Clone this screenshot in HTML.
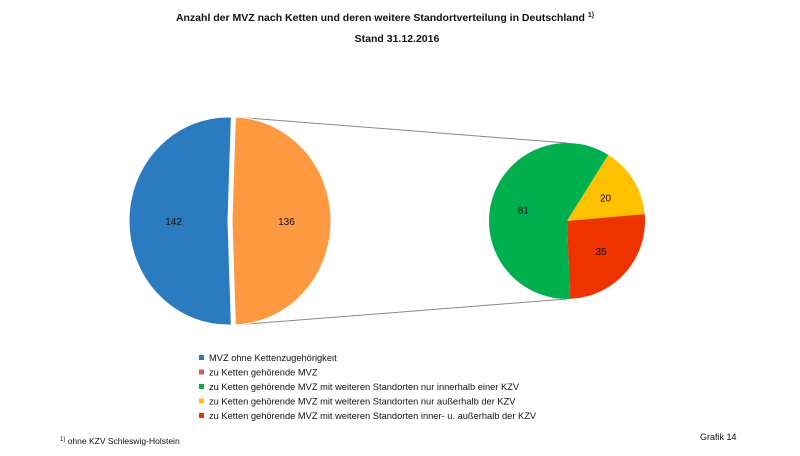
<!DOCTYPE html>
<html><head><meta charset="utf-8"><style>
body{margin:0;background:#fff;width:800px;height:451px;overflow:hidden;font-family:"Liberation Sans",sans-serif;}
</style></head><body>
<svg width="800" height="451" viewBox="0 0 800 451" id="chart">
<text x="385" y="21" text-anchor="middle" font-size="10.5" font-weight="bold" fill="#111">Anzahl der MVZ nach Ketten und deren weitere Standortverteilung in Deutschland <tspan font-size="7" dy="-4">1)</tspan></text>
<text x="397" y="42" text-anchor="middle" font-size="10.5" font-weight="bold" fill="#111">Stand 31.12.2016</text>
<g id="connectors"></g>
<g id="main-pie"></g>
<g id="sub-pie"></g>
<g id="legend"></g>
<text x="60" y="444" font-size="8.5" fill="#111"><tspan font-size="6" dy="-3">1)</tspan><tspan dy="3"> ohne KZV Schleswig-Holstein</tspan></text>
<text x="700" y="440" font-size="9" fill="#111">Grafik 14</text>
</svg>
<script>
const mainLabels = ["MVZ ohne Kettenzugehörigkeit", "zu Ketten gehörende MVZ"];
const mainValues = [142, 136];
const mainColors = ["#2a7bbf", "#fd9a41"];
const subLabels = ["zu Ketten gehörende MVZ mit weiteren Standorten nur innerhalb einer KZV", "zu Ketten gehörende MVZ mit weiteren Standorten nur außerhalb der KZV", "zu Ketten gehörende MVZ mit weiteren Standorten inner- u. außerhalb der KZV"];
const subValues = [81, 20, 35];
const subColors = ["#00b04f", "#ffc000", "#ee3300"];
const legendLabels = [mainLabels[0], mainLabels[1], subLabels[0], subLabels[1], subLabels[2]];
const legendColors = ["#2a7bbf", "#e05555", "#00b04f", "#ffc000", "#ee3300"];

const NS = "http://www.w3.org/2000/svg";
function mk(tag, attrs, parent){const e=document.createElementNS(NS,tag);for(const k in attrs)e.setAttribute(k,attrs[k]);parent.appendChild(e);return e;}
function pt(cx,cy,rx,ry,a){return [cx+rx*Math.cos(a*Math.PI/180), cy+ry*Math.sin(a*Math.PI/180)];}
function slicePath(cx,cy,rx,ry,a0,a1){const p0=pt(cx,cy,rx,ry,a0),p1=pt(cx,cy,rx,ry,a1);const large=(a1-a0)>180?1:0;return `M${cx},${cy}L${p0[0]},${p0[1]}A${rx},${ry} 0 ${large} 1 ${p1[0]},${p1[1]}Z`;}

// main pie
const mg=document.getElementById('main-pie');
const mTot=mainValues.reduce((a,b)=>a+b,0);
const mcx=229, mcy=221, mrx=99, mry=104;
const orangeSpan=mainValues[1]/mTot*360;
const oStart=-orangeSpan/2;
const mainStarts=[oStart+orangeSpan, oStart];
const mainSpans=[mainValues[0]/mTot*360, orangeSpan];
const offsets=[-1,3];
mainValues.forEach((v,i)=>{
  const g=mk('g',{},mg);
  const p=mk('path',{d:slicePath(mcx+offsets[i],mcy,mrx,mry,mainStarts[i],mainStarts[i]+mainSpans[i]),fill:mainColors[i],stroke:'#fff','stroke-width':1},g);
  
  
  const mid=mainStarts[i]+mainSpans[i]/2;
  const lp=pt(mcx+offsets[i],mcy,mrx*0.55,mry*0.55,mid);
  const t=mk('text',{x:lp[0],y:lp[1]+4,'text-anchor':'middle','font-size':10,fill:'#111'},g);
  t.textContent=v;
  
  
});

// sub pie
const sg=document.getElementById('sub-pie');
const sTot=subValues.reduce((a,b)=>a+b,0);
const scx=567, scy=221, sr=78;
// connectors
const cg=document.getElementById('connectors');
[[mcy-mry,scy-sr],[mcy+mry,scy+sr]].forEach((yy,i)=>{
  const l=mk('line',{x1:mcx+6,y1:yy[0],x2:scx,y2:yy[1],stroke:'#888','stroke-width':1},cg);
  
  
});
let a=-58-subValues[0]/sTot*360;
subValues.forEach((v,i)=>{
  const span=v/sTot*360;
  const g=mk('g',{},sg);
  const p=mk('path',{d:slicePath(scx,scy,sr,sr,a,a+span),fill:subColors[i]},g);
  
  
  const lp=pt(scx,scy,sr*0.58,sr*0.58,a+span/2);
  const t=mk('text',{x:lp[0],y:lp[1]+4,'text-anchor':'middle','font-size':10,fill:'#111'},g);
  t.textContent=v;
  
  
  a+=span;
});

// legend
const lg=document.getElementById('legend');
legendLabels.forEach((lab,i)=>{
  const y=359+i*14.5;
  const g=mk('g',{},lg);
  
  
  mk('rect',{x:199,y:y-4,width:5,height:5,fill:legendColors[i]},g);
  const t=mk('text',{x:209,y:y+2,'font-size':9.3,fill:'#111'},g);
  t.textContent=lab;
});
</script>
</body></html>
